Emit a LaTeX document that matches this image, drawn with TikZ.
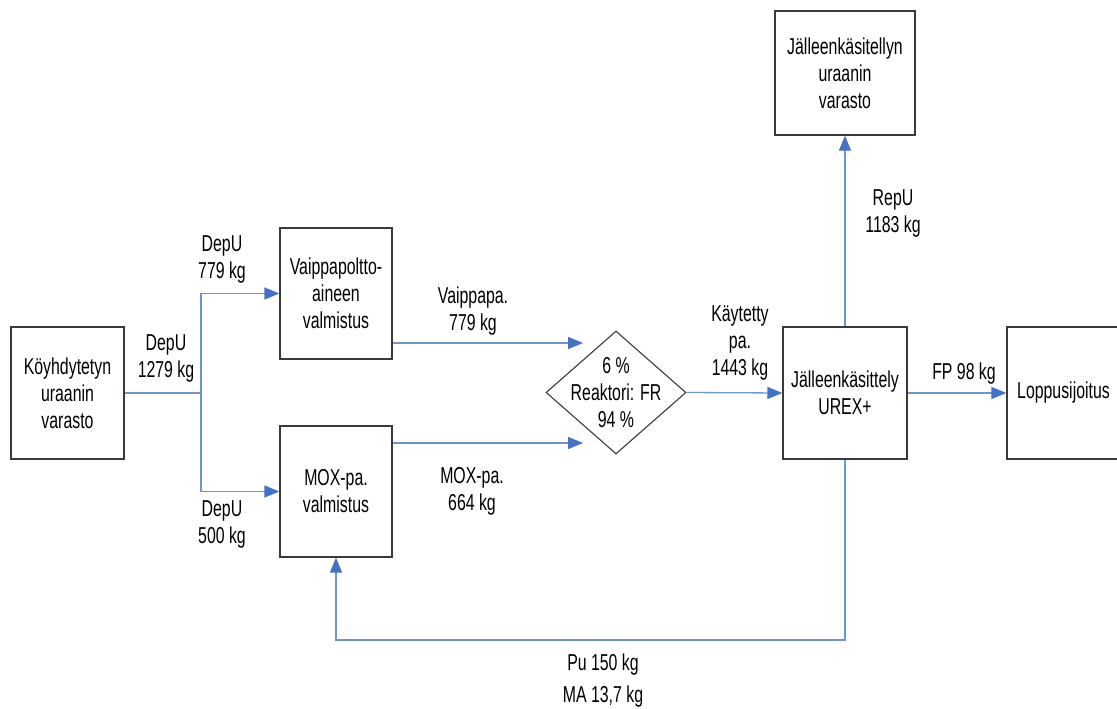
\documentclass[tikz,border=0pt]{standalone}
\usepackage{fontspec}
\setmainfont{Liberation Sans}[FakeStretch=0.69]
\usetikzlibrary{shapes.geometric,arrows.meta}
\definecolor{flowblue}{HTML}{4472C4}
\definecolor{flowline}{HTML}{6F94D2}
\definecolor{boxline}{HTML}{3A3A3A}
\begin{document}
\begin{tikzpicture}[x=1pt,y=-1pt,
  every node/.style={font=\fontsize{23}{27}\selectfont, text=black},
  stage/.style={draw=boxline, line width=1.3pt, rectangle, inner sep=0pt, align=center},
  reactor/.style={draw=boxline, line width=1.1pt, diamond, inner sep=0pt,
    minimum width=140pt, minimum height=123pt},
  flow/.style={draw=flowline, line width=1.3pt,
    -{Triangle[length=15pt,width=12pt,fill=flowblue,color=flowblue]}},
  pipe/.style={draw=flowline, line width=1.3pt},
  lbl/.style={align=center, inner sep=0pt}]
\useasboundingbox (0,0) rectangle (1117,709);

% process stages
\node[stage, minimum width=113pt, minimum height=132pt] (dep) at (67.5,393)
  {Köyhdytetyn\\uraanin\\varasto};
\node[stage, minimum width=112pt, minimum height=131pt] (vaip) at (336,293.5)
  {Vaippapoltto-\\aineen\\valmistus};
\node[stage, minimum width=112pt, minimum height=131pt] (mox) at (336,491.5)
  {MOX-pa.\\valmistus};
\node[reactor] (reak) at (616,392.5) {};
\node[lbl] (reaktxt) at (reak.center) {6 \%\\Reaktori: FR\\94 \%};
\node[stage, minimum width=124pt, minimum height=132pt] (urex) at (845,393)
  {Jälleenkäsittely\\UREX+};
\node[stage, minimum width=140pt, minimum height=124pt] (repo) at (845,73)
  {Jälleenkäsitellyn\\uraanin\\varasto};
\node[stage, minimum width=113pt, minimum height=132pt] (lopp) at (1063.5,393)
  {Loppusijoitus};

% junction points
\coordinate (split) at (201,393);
\coordinate (inA) at (583,343);
\coordinate (inB) at (583,443);
\coordinate (ret) at (0,640);

% flows
\draw[pipe] (dep.east) -- (split);
\draw[flow] (split) |- (vaip.west);
\draw[flow] (split) |- (mox.west);
\draw[flow] ([yshift=-49.5pt]vaip.east) -- (inA);
\draw[flow] ([yshift=48.5pt]mox.east) -- (inB);
\draw[flow] (reak.east) -- (urex.west);
\draw[flow] (urex.north) -- (repo.south);
\draw[flow] (urex.east) -- (lopp.west);
\draw[flow] (urex.south) |- (ret -| mox.south) -- (mox.south);

% flow labels
\node[lbl] (l1) at (222,259) {DepU\\779 kg};
\node[lbl] (l2) at (166,358) {DepU\\1279 kg};
\node[lbl] (l3) at (222,524.5) {DepU\\500 kg};
\node[lbl] (l4) at (473,311) {Vaippapa.\\779 kg};
\node[lbl] (l5) at (472,491) {MOX-pa.\\664 kg};
\node[lbl] (l6) at (740,343) {Käytetty\\pa.\\1443 kg};
\node[lbl] (l7) at (893,213.5) {RepU\\1183 kg};
\node[lbl] (l8) at (964,374) {FP 98 kg};
\node[lbl] (l9) at (603,681) {Pu 150 kg\\[5pt]MA 13,7 kg};
\end{tikzpicture}
\end{document}
